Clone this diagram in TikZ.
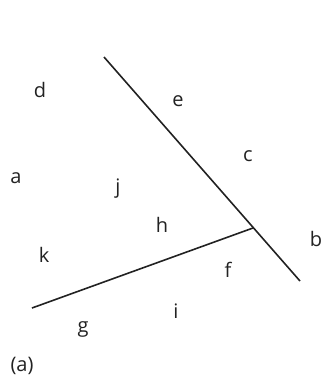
\documentclass[tikz,border=0pt]{standalone}
\usepackage{fontspec}
\setmainfont{Open Sans}
\usepackage{tikz}
\usetikzlibrary{calc}
\definecolor{inkgrey}{RGB}{34,34,34}

\begin{document}
\begin{tikzpicture}[
  x=1pt, y=-1pt,
  font=\fontsize{20}{24}\selectfont,
  lbl/.style={text=inkgrey, inner sep=0pt, anchor=center},
  edge/.style={draw=inkgrey, line width=1.6pt}
]
\useasboundingbox (0,0) rectangle (322,378);
% ends of the two lines
\coordinate (top) at (104,57);
\coordinate (bot) at (300,281);
\coordinate (left) at (32,308);
\coordinate (meet) at (253,228);
\draw[edge] (top) -- (bot);
\draw[edge] (left) -- (meet);
% region labels
\node[lbl] (d) at (40,90)  {d};
\node[lbl] (e) at (178,101) {e};
\node[lbl] (c) at (248,156) {c};
\node[lbl] (a) at (16,178) {a};
\node[lbl] (j) at (118,189) {j};
\node[lbl] (h) at (162,225) {h};
\node[lbl] (b) at (316,239) {b};
\node[lbl] (k) at (44,255) {k};
\node[lbl] (f) at (228,270) {f};
\node[lbl] (i) at (176,311) {i};
\node[lbl] (g) at (83,329) {g};
\node[lbl] (cap) at (22,366) {(a)};
\end{tikzpicture}
\end{document}
